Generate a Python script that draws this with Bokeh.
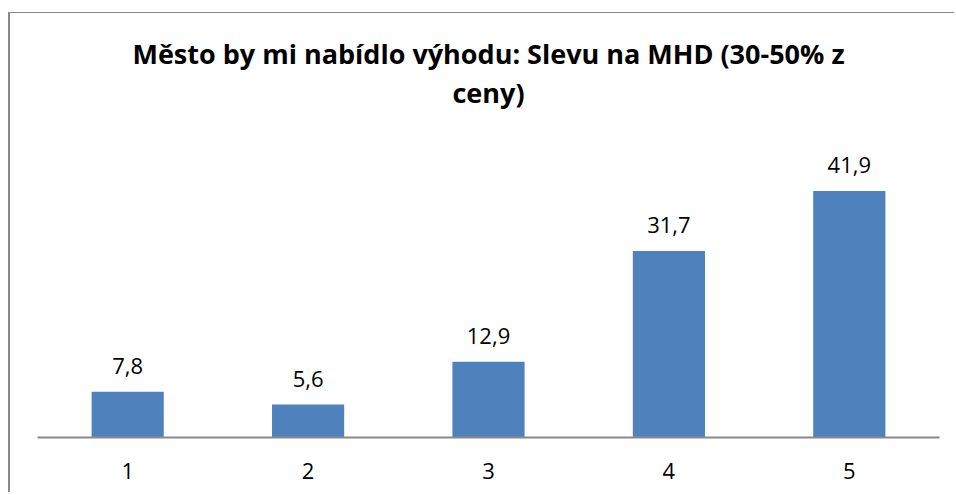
from bokeh.plotting import figure
from bokeh.models import ColumnDataSource, LabelSet, FactorRange, Range1d, Title
from bokeh.core.properties import value
from bokeh.embed import file_html
from bokeh.resources import INLINE

title_lines = ["Město by mi nabídlo výhodu: Slevu na MHD (30-50% z", "ceny)"]
categories = ["1", "2", "3", "4", "5"]
values = [7.8, 5.6, 12.9, 31.7, 41.9]
value_labels = [f"{v:.1f}".replace(".", ",") for v in values]

src = ColumnDataSource(dict(cat=categories, val=values, lab=value_labels))

p = figure(
    x_range=FactorRange(*categories),
    y_range=Range1d(0, 55.6),
    width=946, height=480,
    output_backend="svg", toolbar_location=None,
    min_border_left=27, min_border_right=17,
    min_border_bottom=56, min_border_top=97,
)
p.styles = {
    "border-left": "2px solid #898989",
    "border-top": "1px solid #898989",
    "margin-left": "8px",
    "margin-top": "12px",
}

p.title = None
for txt in reversed(title_lines):
    p.add_layout(Title(text=txt, align="center", text_font="Open Sans",
                       text_font_size="27px", text_font_style="bold",
                       text_color="#000000", standoff=0, offset=0), "above")

p.vbar(x="cat", top="val", width=0.4, source=src, fill_color="#4F81BD", line_color=None)

labels = LabelSet(x="cat", y="val", text="lab", source=src, y_offset=18,
                  text_align="center", text_baseline="alphabetic",
                  text_font=value("Open Sans"), text_font_size=value("22px"),
                  text_color="#000000")
p.add_layout(labels)

p.yaxis.visible = False
p.xgrid.grid_line_color = None
p.ygrid.grid_line_color = None
p.outline_line_color = None
p.xaxis.axis_line_color = "#898989"
p.xaxis.axis_line_width = 2
p.xaxis.major_tick_line_color = None
p.xaxis.minor_tick_line_color = None
p.xaxis.major_label_text_font = "Open Sans"
p.xaxis.major_label_text_font_size = "22px"
p.xaxis.major_label_text_color = "#000000"
p.xaxis.major_label_standoff = 19

open("out.html", "w").write(file_html(p, INLINE))
